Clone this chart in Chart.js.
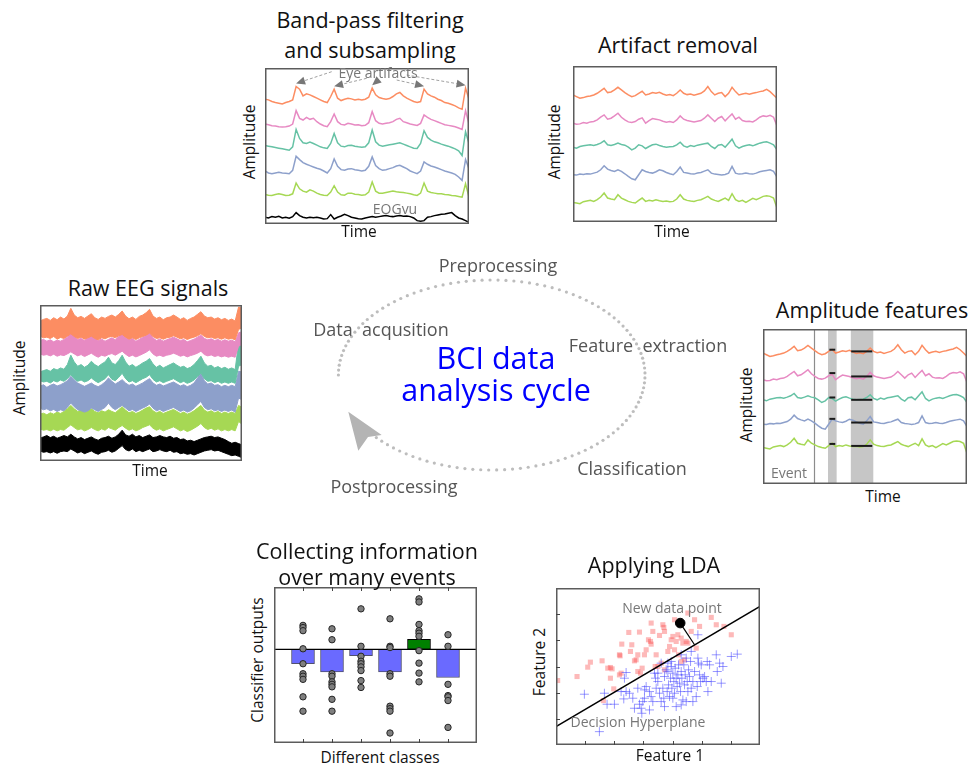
<!DOCTYPE html>
<html>
<head>
<meta charset="utf-8">
<title>BCI data analysis cycle</title>
<script src="https://cdn.jsdelivr.net/npm/chart.js@4.4.1/dist/chart.umd.min.js"></script>
<style>
  html,body{margin:0;padding:0;background:#fff;}
  body{position:relative;width:976px;height:767px;overflow:hidden;font-family:'Open Sans','DejaVu Sans',sans-serif;color:#111;}
  canvas{position:absolute;}
  .lbl{position:absolute;white-space:nowrap;line-height:1.15;transform:translate(-50%,-50%);text-align:center;}
  .ttl{font-size:21.5px;color:#111;}
  .ax{font-size:15.5px;color:#111;}
  .rot{transform:translate(-50%,-50%) rotate(-90deg);}
  .note{font-size:14px;color:#777;}
  .step{font-size:18px;color:#555;}
  .bci{font-size:30.5px;color:#0000ff;line-height:32px;}
</style>
</head>
<body>
<canvas id="cycle" width="340" height="210" style="left:320px;top:265px"></canvas>
<canvas id="bandpass" width="204" height="156" style="left:265px;top:68px"></canvas>
<canvas id="artifact" width="204" height="156" style="left:573px;top:66px"></canvas>
<canvas id="raw" width="202" height="156" style="left:40px;top:305px"></canvas>
<canvas id="features" width="204" height="155" style="left:763px;top:329px"></canvas>
<canvas id="collect" width="203" height="156" style="left:274px;top:587px"></canvas>
<canvas id="lda" width="204" height="157" style="left:556px;top:588px"></canvas>

<div class="lbl ttl" style="left:370px;top:35px;line-height:30px">Band-pass filtering<br>and subsampling</div>
<div class="lbl ax rot" style="left:250px;top:142px">Amplitude</div>
<div class="lbl ax" style="left:359px;top:232px">Time</div>
<div class="lbl note" style="left:378px;top:73px">Eye artifacts</div>
<div class="lbl note" style="left:395px;top:209px">EOGvu</div>

<div class="lbl ttl" style="left:678px;top:45px">Artifact removal</div>
<div class="lbl ax rot" style="left:555px;top:142px">Amplitude</div>
<div class="lbl ax" style="left:672px;top:232px">Time</div>

<div class="lbl ttl" style="left:148px;top:288px">Raw EEG signals</div>
<div class="lbl ax rot" style="left:20px;top:378px">Amplitude</div>
<div class="lbl ax" style="left:150px;top:471px">Time</div>

<div class="lbl ttl" style="left:872px;top:310px">Amplitude features</div>
<div class="lbl ax rot" style="left:747px;top:405px">Amplitude</div>
<div class="lbl ax" style="left:883px;top:497px">Time</div>
<div class="lbl note" style="left:789px;top:473px">Event</div>

<div class="lbl ttl" style="left:367px;top:564px;line-height:26px">Collecting information<br>over many events</div>
<div class="lbl ax rot" style="left:258px;top:660px">Classifier outputs</div>
<div class="lbl ax" style="left:380px;top:758px">Different classes</div>

<div class="lbl ttl" style="left:654px;top:565px">Applying LDA</div>
<div class="lbl ax rot" style="left:540px;top:662px">Feature 2</div>
<div class="lbl ax" style="left:670px;top:756px">Feature 1</div>
<div class="lbl note" style="left:672px;top:608px">New data point</div>
<div class="lbl note" style="left:638px;top:722px">Decision Hyperplane</div>

<div class="lbl step" style="left:498px;top:265px">Preprocessing</div>
<div class="lbl step" style="left:381px;top:329px">Data&nbsp;&nbsp;acqusition</div>
<div class="lbl step" style="left:648px;top:345px">Feature&nbsp;&nbsp;extraction</div>
<div class="lbl step" style="left:632px;top:468px">Classification</div>
<div class="lbl step" style="left:394px;top:486px">Postprocessing</div>
<div class="lbl bci" style="left:496px;top:373px">BCI data<br>analysis cycle</div>

<script>
// ---------- channel colours ----------
const channelColors = ['#fc8d62', '#e78ac3', '#66c2a5', '#8da0cb', '#a6d854'];
const eogColor = '#000000';

// ---------- band-pass filtered + subsampled signals (60 samples, deviation from channel level) ----------
const bpOrange = [2,0,-5,-8,-10,-12,-8,-5,0,40, 32,12,18,15,10,5,0,-5,-8,10, 32,5,-2,2,5,3,0,2,0,2, 8,35,15,7,4,2,4,10,18,22, 12,5,0,-5,-8,-5,32,18,12,8, 2,-2,-8,-10,-14,-18,-24,-28,35,2];
const bpPink   = [3,1,-2,-3,-5,-6,-5,-3,3,43, 20,15,23,17,20,10,3,-2,-5,10, 33,10,2,0,5,3,0,1,-2,-1, 7,40,13,5,3,5,7,10,17,20, 10,7,3,1,-1,5,30,23,17,13, 9,5,1,-1,-3,-5,-9,-13,43,3];
const bpGreen  = [4,2,0,-2,-4,-6,-8,-10,0,52, 25,12,10,14,10,5,0,-3,-5,10, 40,12,2,0,4,5,2,0,-1,0, 12,50,15,5,2,4,6,8,10,12, 8,4,0,-4,-5,10,48,28,20,15, 12,8,5,2,-2,-6,-12,-26,45,10];
const bpBlue   = [-2,-8,-10,-8,-6,-8,-9,-10,0,42, 32,23,18,14,10,6,3,-2,-8,5, 34,12,2,0,4,5,2,0,-2,0, 12,40,14,5,0,2,5,8,13,15, 10,5,-2,-6,-10,-2,25,18,13,10, 6,2,-2,-5,-8,-12,-20,-30,32,5];
const bpLime   = [-2,-4,-5,-2,0,-2,-5,-4,0,32, 15,8,5,12,8,2,-2,-4,-5,5, 24,5,-3,-4,2,2,-1,-2,-4,-3, 5,35,8,2,2,4,6,8,6,5, 4,2,0,-3,-5,2,32,8,4,2, 0,0,-2,-3,-5,-6,-8,-10,30,-10];
const bpEog    = [0,-2,2,0,3,-2,0,-3,2,14, 5,0,-2,0,-1,0,-2,-5,-4,8, -5,0,4,9,5,0,-2,-4,-5,-2, 0,2,0,2,4,5,3,2,4,5, 3,4,2,-2,-10,-12,-10,0,2,5, 7,9,10,12,14,5,-2,-5,-10,-15];
const bpOffsets = [370, 295, 230, 160, 90, 20];
const bpRange = 465;
const artifactSamples = [9, 20, 31, 46, 58];

// ---------- cleaned signals after artifact removal (60 samples) ----------
const clOrange = [0,-5,-10,-8,-5,-3,0,5,12,20, 7,9,15,23,15,7,0,-5,-2,5, 11,0,3,7,5,8,3,-1,1,-2, 5,15,5,1,3,-1,2,5,12,25, 10,0,5,7,-5,5,23,10,0,3, 5,2,5,7,10,12,17,10,0,-10];
const clPink   = [-5,-8,-7,-3,-5,-1,0,5,13,20, 7,10,17,25,13,5,-1,-3,0,7, 11,-5,3,9,7,5,1,-2,0,-3, 5,17,7,3,1,-1,1,3,10,20, 10,0,10,15,2,13,23,7,13,3, 0,1,-1,5,13,17,15,19,13,-13];
const clGreen  = [-2,-5,0,2,4,5,3,6,10,17, 5,3,6,10,6,4,-2,-10,-5,5, 2,-6,0,5,7,3,0,-2,-1,0, 5,13,2,-2,3,0,4,6,8,10, 0,-6,4,6,-2,10,22,2,-5,0, 3,5,2,6,10,13,14,10,5,-10];
const clBlue   = [-3,-4,-1,-2,0,-1,2,5,12,24, 14,10,7,12,7,0,-8,-15,-18,-3, 12,7,4,2,6,12,9,4,0,-3, 7,20,4,2,0,-1,2,4,8,12, 2,-1,-2,-4,-2,2,22,2,-1,0, 2,0,-1,2,6,8,10,12,7,-10];
const clLime   = [-3,-5,-7,-1,1,3,0,5,13,25, 10,7,5,20,10,5,0,-3,-5,3, 10,0,3,1,5,2,0,1,-1,0, 7,20,7,3,1,0,3,5,10,15, 7,3,0,5,10,3,23,5,0,3, -3,3,9,5,10,15,17,15,10,-20];
const artifactOffsets = [382, 302, 227, 145, 62];
const artifactRange = 469;
const featureOffsets = [392, 317, 254, 182, 112];
const featureRange = 464;

// amplitude features: event onset, averaging windows (sample units) and window means per channel
const eventSample = 14.75;
const featureWindows = [[18.8, 21.3], [25.4, 31.9]];
const featureMarkSpans = [[19.2, 20.9], [25.5, 31.6]];
const featureMeans = [[10, 15, 5, 13, 8], [5, 5, -2, 2, 2]];

// ---------- raw EEG envelopes (upper / lower, 60 samples) ----------
const rawOrangeHi = [418,423,426,420,428,422,430,424,433,456,436,428,432,426,433,440,428,423,430,426,432,436,430,438,448,433,425,430,423,432,436,443,453,433,426,430,422,428,430,436,430,423,428,420,426,430,438,446,433,428,430,424,428,422,426,420,424,418,460,458];
const rawOrangeLo = [373,368,370,366,372,364,369,366,373,380,372,366,370,364,368,373,366,362,368,365,370,372,368,374,378,370,364,368,363,368,372,376,382,372,366,368,364,368,370,374,370,365,368,363,367,370,374,380,372,368,370,366,368,364,368,364,366,362,393,398];
const rawPinkHi   = [360,363,358,362,356,361,358,363,370,386,373,363,366,360,368,376,366,360,364,358,363,368,362,372,382,370,362,366,358,363,370,376,384,368,360,364,358,362,366,370,365,360,363,356,360,364,370,376,366,362,365,360,363,358,362,358,361,356,383,386];
const rawPinkLo   = [320,316,318,314,319,313,317,315,320,326,320,314,318,312,317,322,315,310,316,313,318,321,316,322,328,319,312,316,311,315,320,325,332,320,313,316,312,316,318,322,318,313,316,311,315,318,322,328,318,314,317,312,315,311,314,310,313,310,343,348];
const rawGreenHi  = [266,270,273,268,276,272,278,274,288,316,296,283,288,280,286,298,288,282,290,296,310,293,288,300,316,296,283,288,280,286,293,298,306,290,280,286,278,283,288,293,286,280,283,276,280,288,300,313,293,283,286,278,282,276,280,274,278,273,353,348];
const rawGreenLo  = [240,236,238,233,240,236,242,238,246,258,246,238,242,236,240,248,240,234,240,246,258,244,240,250,262,246,236,240,234,240,246,250,258,244,236,240,234,238,242,246,240,234,238,232,236,242,252,263,246,238,240,234,238,232,236,232,236,232,283,288];
const rawBlueHi   = [223,228,220,226,230,224,228,233,240,253,243,233,228,223,228,233,226,222,228,236,248,238,230,236,243,233,226,230,223,228,233,240,246,233,226,230,224,228,232,236,230,224,228,222,226,233,248,262,240,230,233,226,228,222,226,222,226,222,268,266];
const rawBlueLo   = [158,153,156,150,154,148,153,150,160,173,162,153,150,146,150,158,153,148,154,160,173,160,153,160,166,158,150,154,148,153,158,163,170,158,150,154,148,152,156,160,154,148,152,146,150,158,168,178,160,153,156,150,153,148,152,148,152,146,188,183];
const rawLimeHi   = [140,143,138,144,140,146,142,148,156,166,156,148,152,146,150,156,148,144,150,146,153,148,144,153,162,152,144,148,142,146,152,158,162,150,144,148,142,146,150,154,148,142,146,140,144,150,158,166,152,146,150,144,148,142,146,142,146,142,166,160];
const rawLimeLo   = [96,92,94,90,95,90,94,92,100,108,100,93,96,90,94,100,94,90,96,92,100,96,92,100,106,98,92,96,90,94,100,104,108,98,92,96,90,94,98,102,96,90,94,88,92,98,104,112,100,94,98,92,96,90,94,90,94,90,118,110];
const rawEogHi    = [68,72,76,70,74,68,72,76,72,80,72,66,70,64,68,72,66,62,68,70,74,68,72,80,92,78,74,80,72,76,70,74,78,70,72,76,72,70,74,68,70,64,66,60,62,58,62,66,70,72,74,70,72,68,64,58,53,56,52,48];
const rawEogLo    = [30,26,28,24,28,23,28,30,28,36,30,24,28,22,26,30,24,20,26,28,32,26,30,38,46,34,30,36,28,32,28,32,36,28,30,34,30,28,32,26,28,22,24,20,22,18,22,26,30,32,34,30,32,28,24,20,16,18,14,10];
const rawRange = 466;

// ---------- classifier outputs per class ----------
const classPositions = [1, 2, 3, 4, 5, 6];
const classMeans = [-0.23, -0.36, -0.10, -0.36, 0.16, -0.45];
const classOutputs = [
  [0.385, 0.35, 0.30, 0.01, -0.23, -0.39, -0.43, -0.48, -0.76, -0.99],
  [0.33, 0.155, -0.39, -0.43, -0.52, -0.56, -0.60, -0.80, -0.99],
  [0.65, 0.05, -0.11, -0.19, -0.23, -0.28, -0.34, -0.50, -0.61],
  [0.49, 0.05, 0.03, -0.39, -0.43, -0.91, -0.95, -0.99, -1.34],
  [0.81, 0.76, 0.40, 0.30, 0.26, 0.21, -0.02, -0.22, -0.38, -0.52],
  [0.235, 0.05, -0.56, -0.74, -0.76, -0.82, -1.25]
];

// ---------- LDA feature space ----------
const classA = [[100,193],[158,205],[190,233],[198,248],[233,252],[237,133],[250,230],[258,232],[263,228],[258,200],
  [268,168],[285,270],[287,267],[292,302],[290,215],[318,280],[322,300],[313,337],[330,252],[335,255],
  [340,270],[345,338],[348,215],[353,230],[360,270],[365,285],[372,315],[378,310],[380,302],[385,340],
  [395,270],[400,235],[405,328],[410,245],[415,360],[418,352],[420,340],[430,280],[435,295],[440,315],
  [445,325],[450,285],[455,310],[460,330],[462,270],[470,320],[475,305],[480,255],[485,310],[490,305],
  [490,395],[500,340],[510,375],[515,290],[525,355],[560,382],[575,360],[598,355],[620,330],[392,235],
  [340,220],[420,225],[470,250],[450,375],[380,365],[285,210]];
const classB = [[180,152],[240,155],[248,122],[270,122],[290,160],[298,138],[305,160],[305,217],[325,140],[330,110],
  [345,122],[350,110],[355,130],[352,95],[360,165],[365,175],[375,105],[380,145],[385,130],[390,215],
  [393,200],[395,170],[400,190],[405,155],[410,245],[415,170],[418,140],[420,205],[425,225],[428,160],
  [430,220],[432,180],[435,145],[438,200],[440,235],[442,170],[445,215],[448,190],[450,155],[452,230],
  [455,200],[458,175],[460,210],[462,240],[465,185],[468,160],[470,220],[472,200],[475,135],[478,240],
  [480,180],[482,210],[485,260],[488,190],[490,160],[492,225],[495,205],[498,250],[500,170],[505,190],
  [510,220],[515,145],[518,175],[520,330],[522,245],[525,210],[528,190],[530,240],[535,200],[540,205],
  [545,190],[548,250],[550,160],[555,240],[560,190],[575,270],[578,220],[585,245],[590,185],[595,235],
  [620,265],[638,272],[225,40],[300,200],[340,170],[375,160],[410,130],[445,140],[470,120],[505,130],
  [420,115],[440,250],[500,280],[520,260],[470,270],[430,245],[400,215],[360,140],[315,155],[455,115],[485,130]];
const hyperplane = [[95, 55], [706, 415]];
const newPoint = [467, 365];
const newPointFoot = [510, 300];
const ldaXTicks = [182, 269, 357, 444, 531, 618];
const ldaYTicks = [78, 157, 235, 313, 392];

// ---------- shared helpers ----------
const N = bpOrange.length;
const toPoints = (vals, off) => vals.map((v, i) => ({x: i, y: v + off}));

function baseOptions(xmin, xmax, ymin, ymax, pluginOpts) {
  return {
    responsive: false, animation: false, devicePixelRatio: 1, events: [],
    layout: {padding: 0, autoPadding: false},
    plugins: Object.assign({legend: {display: false}, tooltip: {enabled: false}}, pluginOpts || {}),
    scales: {
      x: {type: 'linear', display: false, offset: false, min: xmin, max: xmax},
      y: {type: 'linear', display: false, min: ymin, max: ymax}
    }
  };
}

const framePlugin = {
  id: 'frame',
  afterDraw(chart) {
    const {ctx, chartArea: a} = chart;
    ctx.save();
    ctx.strokeStyle = '#5c5c5c';
    ctx.lineWidth = 1.5;
    ctx.strokeRect(a.left + 0.75, a.top + 0.75, a.width - 1.5, a.height - 1.5);
    ctx.restore();
  }
};

const tickPlugin = {
  id: 'axisTicks',
  afterDraw(chart, args, opts) {
    const {ctx, chartArea: a, scales: {x, y}} = chart;
    const len = 4;
    ctx.save();
    ctx.strokeStyle = '#444';
    ctx.lineWidth = 1;
    ctx.beginPath();
    (opts.x || []).forEach(v => {
      const px = Math.round(x.getPixelForValue(v)) + 0.5;
      if (opts.bottom) { ctx.moveTo(px, a.bottom); ctx.lineTo(px, a.bottom - len); }
      if (opts.top) { ctx.moveTo(px, a.top); ctx.lineTo(px, a.top + len); }
    });
    (opts.y || []).forEach(v => {
      const py = Math.round(y.getPixelForValue(v)) + 0.5;
      if (opts.left) { ctx.moveTo(a.left, py); ctx.lineTo(a.left + len, py); }
    });
    ctx.stroke();
    ctx.restore();
  }
};

function traceDatasets(signals, offsets, colors) {
  return signals.map((s, k) => ({
    data: toPoints(s, offsets[k]), borderColor: colors[k], borderWidth: 1.5,
    pointRadius: 0, tension: 0, fill: false
  }));
}

// ---------- band-pass panel ----------
const eyeArrows = {
  id: 'eyeArrows',
  afterDatasetsDraw(chart, args, opts) {
    const {ctx, scales: {x, y}} = chart;
    ctx.save();
    artifactSamples.forEach((s, k) => {
      const hx = x.getPixelForValue(s);
      const hy = y.getPixelForValue(bpOffsets[0] + bpOrange[s]) - 3;
      const [tx, ty] = opts.tails[k];
      const ang = Math.atan2(hy - ty, hx - tx);
      const L = 9, W = 4;
      const bx = hx - L * Math.cos(ang), by = hy - L * Math.sin(ang);
      ctx.setLineDash([3, 2]);
      ctx.strokeStyle = '#a0a0a0';
      ctx.lineWidth = 1;
      ctx.beginPath(); ctx.moveTo(tx, ty); ctx.lineTo(bx, by); ctx.stroke();
      ctx.setLineDash([]);
      ctx.fillStyle = '#777';
      ctx.beginPath();
      ctx.moveTo(hx, hy);
      ctx.lineTo(bx + W * Math.sin(ang), by - W * Math.cos(ang));
      ctx.lineTo(bx - W * Math.sin(ang), by + W * Math.cos(ang));
      ctx.closePath(); ctx.fill();
    });
    ctx.restore();
  }
};

new Chart(document.getElementById('bandpass'), {
  type: 'line',
  data: {datasets: traceDatasets([bpOrange, bpPink, bpGreen, bpBlue, bpLime, bpEog], bpOffsets, channelColors.concat([eogColor]))},
  options: baseOptions(0, N - 1, 0, bpRange, {
    eyeArrows: {tails: [[66.7, 3.7], [101.7, 10.3], [113.3, 12], [131.7, 12], [141.7, 7]]}
  }),
  plugins: [eyeArrows, framePlugin]
});

// ---------- artifact removal panel ----------
const cleaned = [clOrange, clPink, clGreen, clBlue, clLime];
new Chart(document.getElementById('artifact'), {
  type: 'line',
  data: {datasets: traceDatasets(cleaned, artifactOffsets, channelColors)},
  options: baseOptions(0, N - 1, 0, artifactRange),
  plugins: [framePlugin]
});

// ---------- raw EEG panel ----------
const rawHi = [rawOrangeHi, rawPinkHi, rawGreenHi, rawBlueHi, rawLimeHi, rawEogHi];
const rawLo = [rawOrangeLo, rawPinkLo, rawGreenLo, rawBlueLo, rawLimeLo, rawEogLo];
const rawColors = channelColors.concat([eogColor]);
const rawSets = [];
rawHi.forEach((hi, k) => {
  rawSets.push({data: toPoints(hi, 0), borderColor: rawColors[k], backgroundColor: rawColors[k],
    borderWidth: 1, pointRadius: 0, tension: 0, fill: '+1'});
  rawSets.push({data: toPoints(rawLo[k], 0), borderColor: rawColors[k],
    borderWidth: 1, pointRadius: 0, tension: 0, fill: false});
});
new Chart(document.getElementById('raw'), {
  type: 'line',
  data: {datasets: rawSets},
  options: baseOptions(0, N - 1, 0, rawRange),
  plugins: [framePlugin]
});

// ---------- amplitude features panel ----------
const featureBands = {
  id: 'featureBands',
  beforeDatasetsDraw(chart) {
    const {ctx, chartArea: a, scales: {x}} = chart;
    ctx.save();
    ctx.fillStyle = '#c6c6c6';
    featureWindows.forEach(([s, e]) => {
      const x0 = x.getPixelForValue(s), x1 = x.getPixelForValue(e);
      ctx.fillRect(x0, a.top, x1 - x0, a.height);
    });
    ctx.strokeStyle = '#8c8c8c';
    ctx.lineWidth = 1.2;
    const ex = Math.round(x.getPixelForValue(eventSample)) + 0.5;
    ctx.beginPath(); ctx.moveTo(ex, a.top); ctx.lineTo(ex, a.bottom); ctx.stroke();
    ctx.restore();
  }
};
const featureSets = traceDatasets(cleaned, featureOffsets, channelColors);
featureMarkSpans.forEach(([s, e], w) => {
  featureMeans[w].forEach((m, k) => {
    featureSets.push({
      data: [{x: s, y: featureOffsets[k] + m}, {x: e, y: featureOffsets[k] + m}],
      borderColor: '#1a1a1a', borderWidth: 2, pointRadius: 0, fill: false, order: -1
    });
  });
});
new Chart(document.getElementById('features'), {
  type: 'line',
  data: {datasets: featureSets},
  options: baseOptions(0, N - 1, 0, featureRange),
  plugins: [featureBands, framePlugin]
});

// ---------- classifier outputs panel ----------
const best = Math.max(...classMeans);
const dots = [];
classOutputs.forEach((vals, c) => vals.forEach(v => dots.push({x: classPositions[c], y: v})));
new Chart(document.getElementById('collect'), {
  type: 'bar',
  data: {
    datasets: [
      {type: 'bar', data: classMeans.map((v, i) => ({x: classPositions[i], y: v})),
        backgroundColor: classMeans.map(v => v === best ? '#008000' : '#6a6aff'),
        borderColor: classMeans.map(v => v === best ? '#000' : '#505070'),
        borderWidth: 1, borderSkipped: false, barThickness: 23, order: 3},
      {type: 'line', data: [{x: 0, y: 0}, {x: 7, y: 0}], borderColor: '#000', borderWidth: 1.2,
        pointRadius: 0, fill: false, order: 2},
      {type: 'scatter', data: dots, backgroundColor: '#7f7f7f', borderColor: '#262626',
        borderWidth: 1, pointRadius: 3.2, order: 1}
    ]
  },
  options: baseOptions(0, 7, -1.5, 1.0, {axisTicks: {x: classPositions, top: true, bottom: true}}),
  plugins: [framePlugin, tickPlugin]
});

// ---------- LDA panel ----------
new Chart(document.getElementById('lda'), {
  type: 'scatter',
  data: {
    datasets: [
      {data: classA.map(([x, y]) => ({x, y})), pointStyle: 'rect', pointRadius: 3.6,
        backgroundColor: 'rgba(250,70,70,0.38)', borderWidth: 0, order: 5},
      {data: classB.map(([x, y]) => ({x, y})), pointStyle: 'cross', pointRadius: 4.5,
        borderColor: 'rgba(70,70,255,0.55)', borderWidth: 1, order: 4},
      {type: 'line', data: hyperplane.map(([x, y]) => ({x, y})), borderColor: '#000', borderWidth: 1.5,
        pointRadius: 0, fill: false, order: 3},
      {type: 'line', data: [newPoint, newPointFoot].map(([x, y]) => ({x, y})), borderColor: '#000',
        borderWidth: 1.2, pointRadius: 0, fill: false, order: 2},
      {data: [{x: newPoint[0], y: newPoint[1]}], pointRadius: 4.8, backgroundColor: '#000',
        borderColor: '#000', order: 1}
    ]
  },
  options: baseOptions(95, 706, 0, 470, {axisTicks: {x: ldaXTicks, y: ldaYTicks, bottom: true, left: true}}),
  plugins: [framePlugin, tickPlugin]
});

// ---------- central analysis cycle ----------
const cycleRing = {
  id: 'cycleRing',
  afterDraw(chart) {
    const ctx = chart.ctx;
    const cx = 171.7, cy = 110, rx = 153.3, ry = 95;
    const start = Math.PI, end = Math.PI * 2 + Math.PI * 140 / 180;
    const step = 0.052;
    ctx.save();
    ctx.fillStyle = '#bdbdbd';
    for (let t = start; t <= end; t += step) {
      ctx.beginPath();
      ctx.arc(cx + rx * Math.cos(t), cy + ry * Math.sin(t), 1.6, 0, Math.PI * 2);
      ctx.fill();
    }
    ctx.fillStyle = '#b4b4b4';
    ctx.beginPath();
    ctx.moveTo(28.3, 146.7);
    ctx.lineTo(61.7, 170);
    ctx.lineTo(48, 172);
    ctx.lineTo(38.3, 185.7);
    ctx.closePath();
    ctx.fill();
    ctx.restore();
  }
};
new Chart(document.getElementById('cycle'), {
  type: 'scatter',
  data: {datasets: []},
  options: baseOptions(0, 1, 0, 1),
  plugins: [cycleRing]
});
</script>
</body>
</html>
